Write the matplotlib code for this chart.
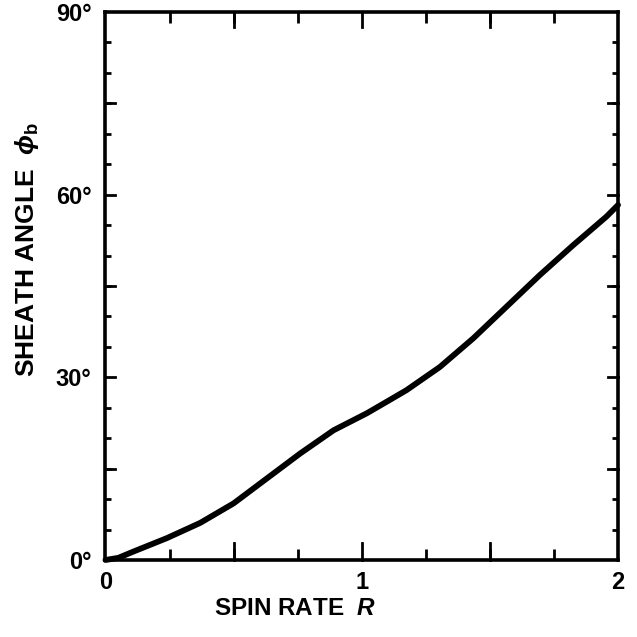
import numpy as np
import matplotlib
matplotlib.use('Agg')
import matplotlib.pyplot as plt
from matplotlib.ticker import MultipleLocator

plt.rcParams['font.family'] = ['Liberation Sans', 'DejaVu Sans']
plt.rcParams['font.weight'] = 'bold'
plt.rcParams['mathtext.fontset'] = 'custom'
plt.rcParams['mathtext.rm'] = 'Liberation Sans:bold'
plt.rcParams['mathtext.it'] = 'Liberation Sans:bold:italic'
plt.rcParams['mathtext.bf'] = 'Liberation Sans:bold'

# Kurve
spin_rate = [0, 0.05, 0.11, 0.24, 0.37, 0.50, 0.63, 0.76, 0.89, 1.02,
             1.11, 1.175, 1.305, 1.435, 1.565, 1.695, 1.825, 1.955, 2.0]
sheath_deg = [0, 0.35, 1.4, 3.6, 6.1, 9.3, 13.4, 17.5, 21.3, 24.1,
              26.3, 27.9, 31.7, 36.4, 41.6, 46.8, 51.7, 56.4, 58.3]

x_ticks = [0, 1, 2]
y_ticks = [0, 30, 60, 90]
y_ticklabels = ['0°', '30°', '60°', '90°']

fig = plt.figure(figsize=(6.37, 6.37), dpi=100)
ax = fig.add_axes([0.1656, 0.1209, 0.8046, 0.8603])

ax.plot(spin_rate, sheath_deg, color='black', lw=4.2, solid_capstyle='round',
        solid_joinstyle='round', clip_on=False)

ax.set_xlim(0, 2)
ax.set_ylim(0, 90)

ax.set_xticks(x_ticks)
ax.set_xticklabels([str(v) for v in x_ticks])
ax.set_yticks(y_ticks)
ax.set_yticklabels(y_ticklabels)

# Ekstra tikkmerker uten tekst
ax.xaxis.set_minor_locator(MultipleLocator(0.25))
ax.yaxis.set_minor_locator(MultipleLocator(5))
ax.tick_params(axis='both', which='both', direction='in', top=True, right=True,
               width=2, labelsize=17, colors='black')
ax.tick_params(axis='x', which='major', length=0, pad=8)
ax.tick_params(axis='y', which='major', length=0, pad=10)
ax.tick_params(axis='x', which='minor', length=8)
ax.tick_params(axis='y', which='minor', length=4.5)

# lange tikkmerker hver 0.5 og hver 15 grader
for xv in [0.5, 1.0, 1.5]:
    ax.plot([xv, xv], [0, 90 * 17 / 548], color='black', lw=2, clip_on=False)
    ax.plot([xv, xv], [90, 90 - 90 * 15 / 548], color='black', lw=2, clip_on=False)
for yv in [15, 30, 45, 60, 75]:
    ax.plot([0, 2 * 10 / 512], [yv, yv], color='black', lw=2, clip_on=False)
    ax.plot([2, 2 - 2 * 10 / 512], [yv, yv], color='black', lw=2, clip_on=False)

for s in ax.spines.values():
    s.set_linewidth(2.6)

ax.set_xlabel(r'SPIN RATE  $\it{R}$', fontsize=17.5, fontweight='bold')
ax.set_ylabel(r'SHEATH ANGLE  $\phi_{\mathrm{b}}$', fontsize=19, fontweight='bold')
ax.xaxis.set_label_coords(0.37, -0.068)
ax.yaxis.set_label_coords(-0.126, 0.5675)

plt.savefig('out.png', dpi=100)
plt.close()
